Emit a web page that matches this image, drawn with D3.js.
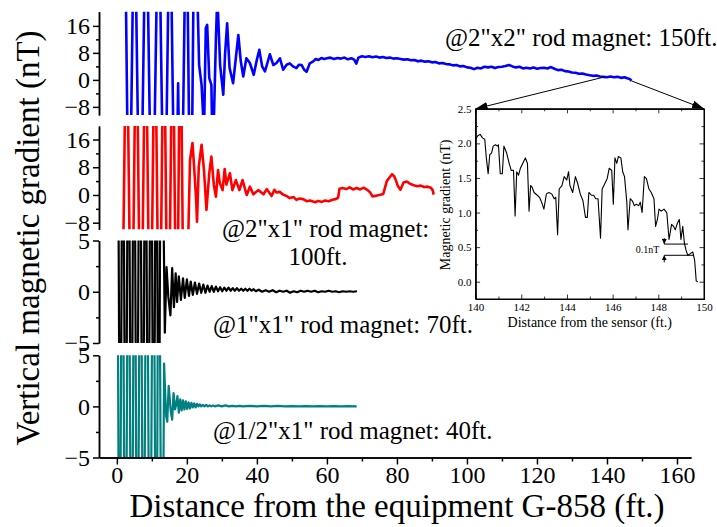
<!DOCTYPE html>
<html>
<head>
<meta charset="utf-8">
<script src="https://cdn.jsdelivr.net/npm/d3@7"></script>
<style>
  body { margin: 0; background: #fff; }
  svg { display: block; font-family: "Liberation Serif", "Times New Roman", Times, serif; }
  svg text { font-family: "Liberation Serif", "Times New Roman", Times, serif !important; fill: #000; }
</style>
</head>
<body>
<div id="chart-area"></div>
<script>
// ---- data (distance ft, gradient nT) ----
const blueData = [[2.2,60],[3.5,-60],[5.0,60],[6.65,-60],[8.35,60],[10.1,-60],[11.9,60],[13.6,-60],[15.15,60],[16.7,-60],[17.5,-1],[18.3,-60],[19.85,60],[21.1,-60],[22.2,60],[23.5,4.4],[24.2,-1.5],[24.9,-16],[25.4,15.3],[25.8,16.3],[26.4,0.5],[27.0,-1.5],[27.4,-25],[28.3,12.3],[28.7,25],[29.5,4.4],[30.4,-4.4],[30.9,7.4],[31.5,16.8],[32.2,3.5],[33.2,-1],[34.7,13.3],[35.4,5.5],[36.1,1.0],[37,6.4],[38,5],[39.1,1.5],[40,6],[40.7,8.9],[41.5,4],[42.3,2.5],[43,5],[43.7,7.6],[44.7,4.4],[45.6,5],[46.6,6.4],[47.5,3],[48.5,4.5],[49.4,4.9],[50.3,4],[51.3,3.5],[52,4.5],[52.8,4.4],[53.5,3],[54.2,2.4],[55.1,4.9],[56,5.4],[56.8,6.2],[57.6,5.9],[58.4,6.5],[59.2,6.2],[60,6.4],[61,6.6],[62,6.2],[63,6.5],[64,6.3],[65,6.6],[66,6.1],[67,6.4],[67.8,6.0],[68.4,4.8],[69,6.6],[70,7.0],[71,6.8],[72,7.0],[73,6.7],[74,6.9],[75,6.6],[76,6.8],[77,6.5],[78,6.6],[79,6.3],[80,6.4],[81,6.2],[82,6.0],[83,6.1],[84,5.8],[85,5.9],[86,5.5],[87,5.7],[88,5.4],[89,5.5],[90,5.2],[91,5.3],[92,4.9],[93,5.0],[94,4.7],[95,4.6],[96,4.3],[97,4.4],[98,4.0],[99,4.1],[100,3.7],[101,3.6],[102,3.2],[103,3.6],[104,3.4],[105,3.9],[106,3.7],[107,3.9],[108,3.5],[109,3.8],[110,3.9],[111,4.1],[112,4.4],[113,4.0],[114,3.7],[115,3.9],[116,3.4],[117,3.6],[118,3.4],[119,3.7],[120,3.3],[121,3.5],[122,3.6],[123,3.4],[124,3.8],[125,3.3],[126,2.9],[127,3.0],[128,2.6],[129,2.5],[130,2.2],[131,2.1],[132,1.8],[133,1.9],[134,1.6],[135,1.4],[136,1.2],[137,1.3],[138,1.0],[139,0.9],[140,0.8],[141,1.0],[142,0.8],[143,0.9],[144,0.6],[145,0.8],[145.8,0.5],[146.5,0.3],[147,-0.3]]

const redData = [[1.3,-60],[2.75,60],[4.2,-60],[5.55,60],[6.85,-60],[8.2,60],[9.55,-60],[10.85,60],[12.15,-60],[13.4,60],[14.65,-60],[15.95,60],[17.1,-60],[18.1,60],[19.3,-60],[20.9,10.1],[21.6,15],[22,9.2],[22.6,-0.5],[22.9,-7.7],[23.4,8.2],[24.2,14.5],[24.9,7],[25.6,-4.3],[26.4,6.3],[27.0,11.1],[27.7,2.9],[28.3,-0.5],[28.9,7.2],[29.4,3.5],[30.2,1.4],[30.8,7.5],[31.3,3.0],[32.3,6.3],[33.0,1.4],[34.0,4.3],[35.0,1.4],[35.9,4.3],[37.1,0],[38,2.4],[39,0.2],[40.4,1.4],[41.9,0.2],[42.8,1.7],[44.2,-0.3],[45,1.5],[45.6,0.7],[46.5,0.9],[47.5,0.1],[48.5,-0.3],[49.4,-0.9],[50.5,-0.6],[51.3,-1.4],[52.2,-1.0],[53.2,-1.2],[54.2,-1.8],[55.2,-1.6],[56,-1.9],[56.7,-2.1],[57.5,-1.7],[58.5,-2.0],[59.5,-1.6],[60.5,-1.8],[61.6,-1.4],[62.5,-1.2],[63.2,-0.8],[63.6,1.8],[64.5,2.0],[65.5,1.7],[66.5,2.2],[67.5,1.6],[68.5,2.0],[69.5,1.6],[70.5,2.1],[71.5,1.5],[72.3,0.8],[73,-0.4],[74,-0.2],[75,0.0],[76.1,0.3],[77.1,4.0],[78,5.2],[78.6,6.0],[79.2,5.4],[79.6,4.5],[80.3,2.5],[81,1.5],[81.9,3.6],[82.8,3.9],[83.8,3.2],[84.8,2.8],[85.8,2.5],[86.8,2.7],[87.8,2.3],[88.8,2.4],[89.7,2.1],[90.2,1.4],[90.5,0.1]]

const blackData = [[0.2,30],[0.95,-30],[1.7,30],[2.5,-30],[3.3,30],[4.1,-30],[4.9,30],[5.7,-30],[6.55,30],[7.4,-30],[8.15,30],[8.95,-30],[9.75,30],[10.5,-30],[11.25,30],[11.95,-30],[12.6,30],[13.7,-4.0],[14.2,2.4],[14.7,-0.5],[15.3,-2.3],[15.8,2.3],[16.3,-1.5],[16.8,1.8],[17.2,-1.0],[17.7,1.5],[18.3,-0.8],[18.9,1.3],[19.4,-0.6],[20.0,1.2],[20.6,-0.4],[21.1,1.0],[21.7,-0.3],[22.3,0.9],[22.9,-0.2],[23.5,0.8],[24.1,-0.1],[24.7,0.7],[25.3,-0.1],[25.9,0.6],[26.5,0.0],[27.1,0.55],[27.7,0.0],[28.3,0.5],[28.9,0.05],[29.5,0.45],[30.1,0.05],[30.7,0.4],[31.3,0.1],[31.9,0.4],[32.5,0.1],[33.1,0.35],[33.7,0.1],[34.3,0.35],[34.9,0.1],[35.5,0.3],[36.1,0.1],[36.7,0.3],[37.3,0.1],[37.9,0.3],[38.5,0.1],[39.1,0.25],[39.7,0.05],[40.5,0.2],[41.5,0.0],[42.5,0.15],[43.5,0.0],[44.5,0.15],[45.5,-0.05],[46.5,0.1],[47.5,0.0],[48.5,0.1],[49.5,-0.1],[50.5,0.05],[51.5,-0.05],[52.5,0.1],[53.5,0.0],[54.5,0.1],[55.5,0.0],[56.5,0.1],[57.5,-0.05],[58.5,0.05],[59.5,0.0],[60.5,0.1],[61.5,0.0],[62.5,0.05],[63.5,-0.05],[64.5,0.05],[65.5,0.0],[66.5,0.05],[67.5,0.0],[68.6,0.05]]

const tealData = [[0.05,30],[0.75,-30],[1.55,30],[2.45,-30],[3.3,30],[4.2,-30],[5.05,30],[5.85,-30],[6.75,30],[7.6,-30],[8.5,30],[9.45,-30],[10.4,30],[11.25,-30],[11.95,30],[12.9,-30],[13.5,4.2],[13.8,1.3],[14.1,-1.0],[14.4,-1.5],[14.8,2.0],[15.1,0.8],[15.4,-0.5],[15.8,-1.3],[16.2,1.3],[16.6,-0.3],[16.9,0.1],[17.3,1.0],[17.7,-0.6],[18.1,0.7],[18.5,-0.4],[18.9,0.6],[19.3,-0.3],[19.7,0.5],[20.1,-0.25],[20.5,0.4],[20.9,-0.2],[21.3,0.35],[21.7,-0.1],[22.1,0.3],[22.5,-0.1],[22.9,0.25],[23.3,0],[23.7,0.2],[24.1,0],[24.5,0.15],[25,0],[25.5,0.15],[26,0],[26.5,0.1],[27,0],[27.5,0.1],[28,0.0],[29,0.1],[30,0],[31,0.1],[32,0],[33,0.05],[34,0],[35,0.05],[36,0],[38,0.05],[40,0],[42,0.05],[44,0],[46,0.05],[48,0],[50,0.03],[52,0],[54,0.03],[56,0],[58,0.03],[60,0],[62,0.02],[64,0],[66,0.02],[68.5,0]]

// inset: zoom on 140-150 ft of the 2"x2" run
const insetData = [[140.03,2.08],[140.1,2.11],[140.2,2.13],[140.3,2.08],[140.4,2.06],[140.47,1.79],[140.55,1.56],[140.62,1.84],[140.7,1.86],[140.77,1.96],[140.87,1.98],[140.96,1.96],[141.0,1.98],[141.08,1.56],[141.17,1.56],[141.24,1.96],[141.36,1.86],[141.47,1.71],[141.56,1.61],[141.66,1.61],[141.73,0.95],[141.8,1.59],[141.88,1.54],[141.96,1.64],[142.06,1.71],[142.18,1.79],[142.27,1.71],[142.34,1.02],[142.41,1.39],[142.47,1.37],[142.56,1.29],[142.7,1.25],[142.8,1.22],[142.89,1.15],[142.99,1.05],[143.1,1.27],[143.21,1.29],[143.33,1.27],[143.44,1.20],[143.51,1.22],[143.59,0.68],[143.66,1.34],[143.78,1.39],[143.88,1.52],[143.99,1.47],[144.07,1.59],[144.13,1.39],[144.25,1.29],[144.37,1.52],[144.47,1.42],[144.58,1.27],[144.7,1.17],[144.81,0.93],[144.89,0.93],[144.96,1.29],[145.07,1.25],[145.17,1.25],[145.26,1.20],[145.36,1.20],[145.47,0.63],[145.54,1.34],[145.66,1.42],[145.76,1.49],[145.85,1.64],[145.96,1.61],[146.03,1.12],[146.1,1.79],[146.18,1.71],[146.25,1.81],[146.36,1.79],[146.44,1.59],[146.52,1.52],[146.62,1.15],[146.67,0.75],[146.77,1.20],[146.86,1.17],[146.95,1.10],[147.04,1.12],[147.14,1.10],[147.21,1.15],[147.29,1.0],[147.39,1.52],[147.48,1.49],[147.59,1.34],[147.69,1.29],[147.81,1.20],[147.88,0.80],[147.96,0.90],[148.03,1.05],[148.13,1.02],[148.25,1.05],[148.37,1.0],[148.47,0.61],[148.58,0.83],[148.67,0.80],[148.74,0.75],[148.84,0.85],[148.92,0.90],[148.99,0.61],[149.07,0.80],[149.14,0.56],[149.21,0.46],[149.29,0.38],[149.41,0.41],[149.51,0.43],[149.59,0.31],[149.66,0.01],[149.73,0.0]]

// ticks
const xTicks = [0,20,40,60,80,100,120,140,160]
const xMinorTicks = [10,30,50,70,90,110,130,150]
const bigTicks = [-8,0,8,16]
const bigMinorTicks = [-4,4,12]
const smallTicks = [-5,0,5]
const smallMinorTicks = [-2.5,2.5]
const insetXTicks = [140,142,144,146,148,150]
const insetXMinor = [141,143,145,147,149]
const insetYTicks = [0,0.5,1.0,1.5,2.0,2.5]
const insetYMinor = [0.25,0.75,1.25,1.75,2.25]

// zoom window marked on the blue trace and the 0.1 nT marker
const zoomFrom = [139.4, 0.9]
const zoomTo = [147, -0.3]
const markerLevels = [0.544, 0.382]
const markerX = [148.26, 149.3, 149.56]

const labels = [
  "@2\"x2\" rod magnet: 150ft.",
  "@2\"x1\" rod magnet:",
  "100ft.",
  "@1\"x1\" rod magnet: 70ft.",
  "@1/2\"x1\" rod magnet: 40ft."
]

// ---- layout ----
const LEFT = 99, RIGHT = 691
const SERIF = "'Liberation Serif', 'Times New Roman', Times, serif"

const svg = d3.select("#chart-area").append("svg")
  .attr("width", 717)
  .attr("height", 527)

const defs = svg.append("defs")
defs.append("marker")
  .attr("id", "arrow")
  .attr("viewBox", "0 0 12 8")
  .attr("refX", 12).attr("refY", 4)
  .attr("markerWidth", 12).attr("markerHeight", 8)
  .attr("markerUnits", "userSpaceOnUse")
  .attr("orient", "auto")
  .append("path").attr("d", "M0,0 L12,4 L0,8 Z").attr("fill", "#000")
defs.append("marker")
  .attr("id", "smallArrow")
  .attr("viewBox", "0 0 6 6")
  .attr("refX", 6).attr("refY", 3)
  .attr("markerWidth", 5).attr("markerHeight", 5)
  .attr("markerUnits", "userSpaceOnUse")
  .attr("orient", "auto")
  .append("path").attr("d", "M0,0 L6,3 L0,6 Z").attr("fill", "#000")

const x = d3.scaleLinear()
  .domain([-5.1, 164])
  .range([LEFT, RIGHT])

const panels = [
  { data: blueData, color: "#0000ff", top: 11.7, bottom: 115, domain: [-10.4, 20.2], ticks: bigTicks, minor: bigMinorTicks, sw: 2.6 },
  { data: redData, color: "#ff0000", top: 126, bottom: 229.3, domain: [-9.9, 19.9], ticks: bigTicks, minor: bigMinorTicks, sw: 2.6 },
  { data: blackData, color: "#000000", top: 240.5, bottom: 343, domain: [-5, 5], ticks: smallTicks, minor: smallMinorTicks, sw: 2.2 },
  { data: tealData, color: "#008080", top: 355.3, bottom: 457.5, domain: [-5, 5], ticks: smallTicks, minor: smallMinorTicks, sw: 2.2 }
]

const yScales = []

panels.forEach((p, i) => {
  const y = d3.scaleLinear().domain(p.domain).range([p.bottom, p.top])
  yScales.push(y)

  defs.append("clipPath").attr("id", "clip" + i)
    .append("rect")
    .attr("x", LEFT + 1).attr("y", p.top)
    .attr("width", 620).attr("height", p.bottom - p.top)

  // minor ticks
  svg.append("g")
    .attr("class", "axis")
    .attr("transform", `translate(${LEFT},0)`)
    .call(d3.axisLeft(y).tickValues(p.minor).tickSize(3).tickSizeOuter(0).tickFormat(""))
  // major ticks
  svg.append("g")
    .attr("class", "axis")
    .attr("transform", `translate(${LEFT},0)`)
    .call(d3.axisLeft(y).tickValues(p.ticks).tickSize(6).tickSizeOuter(0).tickPadding(3))
    .selectAll(".tick text")
      .style("font-size", "24px")

  const line = d3.line()
    .x(d => x(d[0]))
    .y(d => y(d[1]))

  svg.append("path")
    .datum(p.data)
    .attr("clip-path", `url(#clip${i})`)
    .attr("fill", "none")
    .attr("stroke", p.color)
    .attr("stroke-width", p.sw)
    .attr("stroke-linejoin", "round")
    .attr("d", line)
})

// X axis under the last panel
const xAxisY = panels[3].bottom
svg.append("g")
  .attr("class", "axis")
  .attr("transform", `translate(0,${xAxisY})`)
  .call(d3.axisBottom(x).tickValues(xMinorTicks).tickSize(4).tickSizeOuter(0).tickFormat(""))
svg.append("g")
  .attr("class", "axis")
  .attr("transform", `translate(0,${xAxisY})`)
  .call(d3.axisBottom(x).tickValues(xTicks).tickSize(7).tickSizeOuter(0).tickPadding(1))
  .selectAll(".tick text")
    .style("font-size", "24px")

svg.selectAll(".axis path, .axis line").attr("stroke", "#000").attr("stroke-width", 1.5)

// axis titles
svg.append("text")
  .attr("transform", "translate(39,238) rotate(-90)")
  .attr("text-anchor", "middle")
  .style("font-size", "33px")
  .text("Vertical magnetic gradient (nT)")

svg.append("text")
  .attr("x", 397).attr("y", 517)
  .attr("text-anchor", "middle")
  .style("font-size", "33px")
  .text("Distance from the equipment G-858 (ft.)")

// run labels
const labelPos = [[445, 46, "start"], [222, 237, "start"], [318, 265, "middle"], [213, 333, "start"], [213, 439, "start"]]
labels.forEach((t, i) => {
  svg.append("text")
    .attr("x", labelPos[i][0]).attr("y", labelPos[i][1])
    .attr("text-anchor", labelPos[i][2])
    .style("font-size", "25px")
    .text(t)
})

// ---- inset ----
const ix = d3.scaleLinear().domain([140, 150]).range([475.6, 704])
const iy = d3.scaleLinear().domain([-0.25, 2.5]).range([299, 108.8])
const inset = svg.append("g").attr("class", "inset")

inset.append("rect")
  .attr("x", ix(140)).attr("y", iy(2.5))
  .attr("width", ix(150) - ix(140)).attr("height", iy(-0.25) - iy(2.5))
  .attr("fill", "#fff").attr("stroke", "#000").attr("stroke-width", 1)

// inward ticks on all four sides, labels only bottom and left
function insetAxis(makeAxis, ticks, minor, transform, fmt) {
  inset.append("g").attr("transform", transform)
    .call(makeAxis().tickValues(minor).tickSize(-2.5).tickSizeOuter(0).tickFormat(""))
  return inset.append("g").attr("transform", transform)
    .call(makeAxis().tickValues(ticks).tickSize(-4.5).tickSizeOuter(0).tickPadding(4).tickFormat(fmt))
}

insetAxis(() => d3.axisBottom(ix), insetXTicks, insetXMinor, `translate(0,${iy(-0.25)})`, d3.format("d"))
  .selectAll("text").style("font-size", "11px")
insetAxis(() => d3.axisTop(ix), insetXTicks, insetXMinor, `translate(0,${iy(2.5)})`, () => "")
insetAxis(() => d3.axisLeft(iy), insetYTicks, insetYMinor, `translate(${ix(140)},0)`, d3.format(".1f"))
  .selectAll("text").style("font-size", "11px")
insetAxis(() => d3.axisRight(iy), insetYTicks, insetYMinor, `translate(${ix(150)},0)`, () => "")

inset.selectAll("path.domain").attr("stroke", "#000").attr("stroke-width", 1)
inset.selectAll(".tick line").attr("stroke", "#000").attr("stroke-width", 0.8)

inset.append("path")
  .datum(insetData)
  .attr("fill", "none")
  .attr("stroke", "#000")
  .attr("stroke-width", 1.1)
  .attr("stroke-linejoin", "round")
  .attr("d", d3.line().x(d => ix(d[0])).y(d => iy(d[1])))

inset.append("text")
  .attr("x", (ix(140) + ix(150)) / 2).attr("y", 327)
  .attr("text-anchor", "middle")
  .style("font-size", "14px")
  .text("Distance from the sensor (ft.)")

inset.append("text")
  .attr("transform", `translate(450,${(iy(2.5) + iy(-0.25)) / 2 + 1}) rotate(-90)`)
  .attr("text-anchor", "middle")
  .style("font-size", "14px")
  .text("Magnetic gradient (nT)")

// 0.1 nT marker
inset.append("line")
  .attr("x1", ix(markerX[0])).attr("x2", ix(markerX[1]))
  .attr("y1", iy(markerLevels[0])).attr("y2", iy(markerLevels[0]))
  .attr("stroke", "#000").attr("stroke-width", 1)
inset.append("line")
  .attr("x1", ix(markerX[0])).attr("x2", ix(markerX[2]))
  .attr("y1", iy(markerLevels[1])).attr("y2", iy(markerLevels[1]))
  .attr("stroke", "#000").attr("stroke-width", 1)
inset.append("line")
  .attr("x1", ix(markerX[0])).attr("x2", ix(markerX[0]))
  .attr("y1", iy(markerLevels[0]) - 6).attr("y2", iy(markerLevels[0]))
  .attr("stroke", "#000").attr("stroke-width", 1).attr("marker-end", "url(#smallArrow)")
inset.append("line")
  .attr("x1", ix(markerX[0])).attr("x2", ix(markerX[0]))
  .attr("y1", iy(markerLevels[1]) + 7).attr("y2", iy(markerLevels[1]))
  .attr("stroke", "#000").attr("stroke-width", 1).attr("marker-end", "url(#smallArrow)")
inset.append("text")
  .attr("x", ix(markerX[0]) - 5).attr("y", (iy(markerLevels[0]) + iy(markerLevels[1])) / 2 + 3.5)
  .attr("text-anchor", "end")
  .style("font-size", "10px")
  .text("0.1nT")

// arrows from blue trace to inset corners
svg.append("line")
  .attr("x1", x(zoomFrom[0])).attr("y1", yScales[0](zoomFrom[1]))
  .attr("x2", ix(140)).attr("y2", iy(2.5))
  .attr("stroke", "#000").attr("stroke-width", 1).attr("marker-end", "url(#arrow)")
svg.append("line")
  .attr("x1", x(zoomTo[0])).attr("y1", yScales[0](zoomTo[1]))
  .attr("x2", ix(150)).attr("y2", iy(2.5))
  .attr("stroke", "#000").attr("stroke-width", 1).attr("marker-end", "url(#arrow)")

// serif everywhere (d3 axes set their own font attribute)
svg.selectAll("g").attr("font-family", null)
svg.selectAll("text").style("font-family", SERIF).attr("fill", "#000")
</script>
</body>
</html>
